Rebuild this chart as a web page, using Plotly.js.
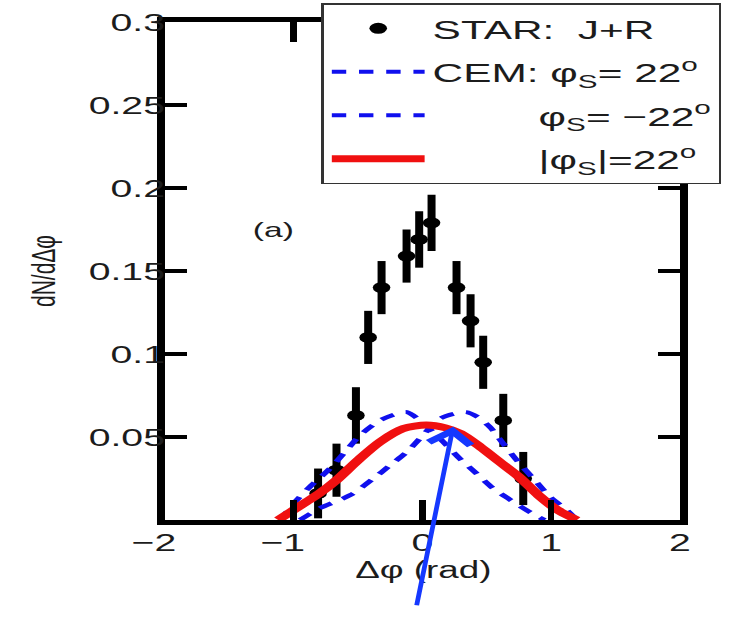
<!DOCTYPE html>
<html>
<head>
<meta charset="utf-8">
<script src="https://cdn.plot.ly/plotly-3.0.1.min.js"></script>
<style>
  html, body { margin: 0; padding: 0; background: #fff; overflow: hidden; }
  /* the figure is laid out narrow and widened horizontally */
  #chart { width: 459px; height: 637px; transform: scaleX(1.6); transform-origin: 0 0; }
</style>
</head>
<body>
<div id="chart"></div>
<script>
// STAR J+R azimuthal correlation points
const starX   = [-0.81, -0.667, -0.516, -0.421, -0.317, -0.123, -0.025, 0.071, 0.265, 0.374, 0.472, 0.628, 0.783];
const starY   = [0.016, 0.030, 0.063, 0.110, 0.140, 0.159, 0.169, 0.179, 0.140, 0.120, 0.095, 0.060, 0.025];
const starErr = [0.015, 0.016, 0.017, 0.016, 0.016, 0.016, 0.017, 0.017, 0.016, 0.016, 0.016, 0.016, 0.016];

// CEM, phi_s = +22 deg
const cemPlusX = [-1.10, -1.00, -0.874, -0.718, -0.589, -0.485, -0.33, -0.20, -0.12, -0.02, 0.136, 0.29, 0.42, 0.55, 0.705, 0.85, 0.95];
const cemPlusY = [0.000, 0.010, 0.020, 0.031, 0.042, 0.051, 0.060, 0.064, 0.065, 0.060, 0.049, 0.037, 0.028, 0.019, 0.011, 0.004, 0.000];

// CEM, phi_s = -22 deg
const cemMinusX = [-0.95, -0.80, -0.56, -0.38, -0.25, -0.12, -0.02, 0.136, 0.25, 0.34, 0.43, 0.524, 0.628, 0.744, 0.861, 0.99, 1.12, 1.20];
const cemMinusY = [0.000, 0.007, 0.015, 0.025, 0.033, 0.041, 0.049, 0.061, 0.064, 0.065, 0.062, 0.056, 0.046, 0.035, 0.025, 0.014, 0.006, 0.000];

// CEM, |phi_s| = 22 deg
const cemAbsX = [-1.12, -1.00, -0.90, -0.80, -0.667, -0.50, -0.33, -0.15, 0.03, 0.18, 0.30, 0.45, 0.60, 0.75, 0.90, 1.05, 1.20];
const cemAbsY = [0.000, 0.006, 0.011, 0.016, 0.024, 0.036, 0.047, 0.055, 0.0572, 0.0555, 0.052, 0.044, 0.035, 0.026, 0.015, 0.006, 0.000];

// axis ticks (trailing blanks keep the digit of a negative label over its tick)
const NB = '\u00a0';
const xTicks = [-2, -1, 0, 1, 2];
const xTickText = ['\u22122' + NB + NB, '\u22121' + NB + NB, '0', '1', '2'];
const yTicks = [0.05, 0.1, 0.15, 0.2, 0.25, 0.3];
const yTickText = ['0.05', '0.1', '0.15', '0.2', '0.25', '0.3'];

const FONT = 'Liberation Sans, Arial, sans-serif';
const INK = '#1c1c1c';
const BLUE = '#1010ee';
const RED = '#f01010';

const traces = [
  {
    x: starX, y: starY, type: 'scatter', mode: 'markers',
    name: 'STAR:' + NB + NB + 'J+R', legendgroup: 'a',
    marker: { color: '#000', size: 11 },
    error_y: { type: 'data', array: starErr, visible: true, thickness: 5, width: 0, color: '#000' }
  },
  {
    x: cemPlusX, y: cemPlusY, type: 'scatter', mode: 'lines',
    name: 'CEM:' + NB + '\u03c6<sub>S</sub>=' + NB + '22<sup>o</sup>', legendgroup: 'b',
    line: { color: BLUE, width: 4, dash: '9px,8px', shape: 'spline', smoothing: 0.8 }
  },
  {
    x: cemMinusX, y: cemMinusY, type: 'scatter', mode: 'lines',
    name: NB.repeat(9) + '\u03c6<sub>S</sub>=' + NB + '\u221222<sup>o</sup>', legendgroup: 'c',
    line: { color: BLUE, width: 4, dash: '9px,8px', shape: 'spline', smoothing: 0.8 }
  },
  {
    x: cemAbsX, y: cemAbsY, type: 'scatter', mode: 'lines',
    name: NB.repeat(9) + '|\u03c6<sub>S</sub>|=22<sup>o</sup>', legendgroup: 'd',
    line: { color: RED, width: 7, shape: 'spline', smoothing: 0.8 }
  }
];

const axisCommon = {
  showline: true, linecolor: '#000', linewidth: 5, mirror: 'allticks',
  ticks: 'inside', tickcolor: '#000', tickwidth: 4,
  showgrid: false, zeroline: false, fixedrange: true,
  tickfont: { family: FONT, size: 24.5, color: INK }
};

const layout = {
  width: 459, height: 637,
  margin: { l: 103, r: 34, t: 22, b: 117, autoexpand: false },
  paper_bgcolor: '#fff', plot_bgcolor: '#fff',
  showlegend: true,
  legend: {
    x: 0.304, y: 1.038, xanchor: 'left', yanchor: 'top',
    bgcolor: '#fff', bordercolor: '#333', borderwidth: 1.5,
    font: { family: FONT, size: 26.5, color: INK },
    itemwidth: 58, tracegroupgap: 6, traceorder: 'grouped'
  },
  xaxis: Object.assign({}, axisCommon, {
    range: [-2, 2], tickmode: 'array', tickvals: xTicks, ticktext: xTickText,
    ticklen: 20, ticklabelstandoff: -3
  }),
  yaxis: Object.assign({}, axisCommon, {
    range: [0, 0.3], tickmode: 'array', tickvals: yTicks, ticktext: yTickText,
    ticklen: 14, ticklabelstandoff: -10,
    title: { text: 'dN/d\u0394\u03c6', font: { family: FONT, size: 21, color: INK }, standoff: 16 }
  }),
  annotations: [
    { x: 0.5, y: -0.101, xref: 'paper', yref: 'paper', yanchor: 'middle',
      text: '\u0394\u03c6 (rad)', showarrow: false,
      font: { family: FONT, size: 23, color: INK } },
    { x: -1.153, y: 0.175, xref: 'x', yref: 'y', text: '(a)', showarrow: false,
      font: { family: FONT, size: 21, color: INK } },
    { x: 0.239, y: 0.0562, xref: 'x', yref: 'y', text: '', showarrow: true,
      arrowhead: 4, arrowsize: 1.7, arrowwidth: 3, arrowcolor: '#1538ff',
      ax: -23, ay: 180, standoff: 0 }
  ]
};

Plotly.newPlot('chart', traces, layout, { staticPlot: true, displayModeBar: false });
</script>
</body>
</html>
